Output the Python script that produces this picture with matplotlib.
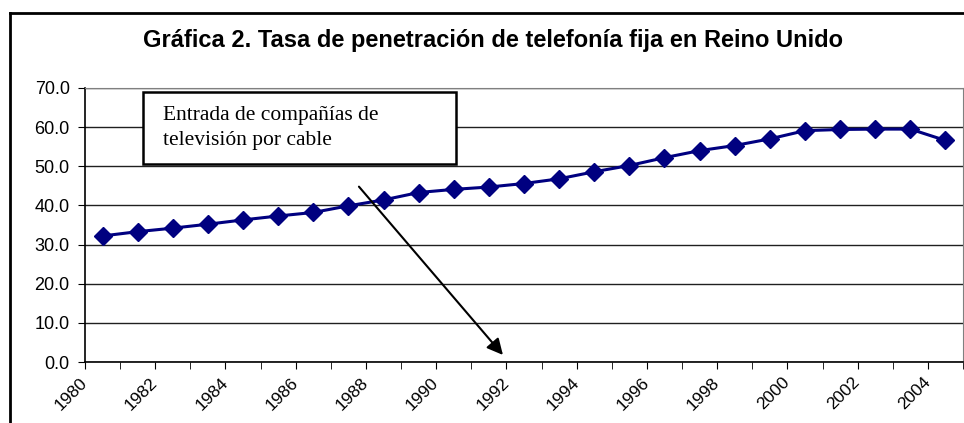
import numpy as np
import matplotlib
matplotlib.use("Agg")
import matplotlib.pyplot as plt
from matplotlib.lines import Line2D
from matplotlib.patches import Rectangle

years = list(range(1980, 2005))
tasa = [32.2, 33.3, 34.2, 35.2, 36.3, 37.3, 38.2, 39.9, 41.4, 43.3, 44.1, 44.7,
        45.6, 46.8, 48.6, 50.2, 52.2, 54.0, 55.3, 57.0, 59.1, 59.4, 59.5, 59.5, 56.6]
yticks = [0, 10, 20, 30, 40, 50, 60, 70]
title = "Gráfica 2. Tasa de penetración de telefonía fija en Reino Unido"
nota = "Entrada de compañías de\ntelevisión por cable"

plt.rcParams["font.family"] = ["Liberation Sans", "DejaVu Sans"]

fig = plt.figure(figsize=(9.64, 4.23), dpi=100)
ax = fig.add_axes([85 / 964, 1 - 362 / 423, 878 / 964, 274 / 423])

x = np.arange(len(years)) + 0.5
ax.plot(x, tasa, color="#000080", lw=2.2, marker="D", ms=9, mec="#000080", zorder=3)

ax.set_xlim(0, len(years))
ax.set_ylim(0, 70)
ax.set_yticks(yticks)
ax.set_yticklabels([f"{v:.1f}" for v in yticks], fontsize=13)
ax.set_xticks(np.arange(len(years) + 1), minor=True)
ax.set_xticks(np.arange(0, len(years), 2))
ax.set_xticklabels([str(years[i]) for i in range(0, len(years), 2)],
                   rotation=45, ha="right", va="center", rotation_mode="anchor",
                   fontsize=12.5)
ax.tick_params(axis="x", which="both", length=5, direction="out", color="black")
ax.tick_params(axis="x", which="major", pad=8)
ax.tick_params(axis="y", length=5, direction="out", pad=6)
ax.grid(axis="y", color="#202020", lw=1)
for s in ("top", "right"):
    ax.spines[s].set_color("#808080")
for s in ("left", "bottom"):
    ax.spines[s].set_color("black")
    ax.spines[s].set_linewidth(1.2)

# arrow from the note down to 1992
ax.annotate("", xy=(11.9, 1.8), xytext=(7.8, 44.8),
            arrowprops=dict(arrowstyle="-|>", color="black", lw=1.5,
                            mutation_scale=24, shrinkA=0, shrinkB=0), zorder=4)

# text box
fig.patches.append(Rectangle((143 / 964, 1 - 164 / 423), 313 / 964, 72 / 423,
                             transform=fig.transFigure, fill=True, fc="white",
                             ec="black", lw=1.8, zorder=5))
fig.text(163 / 964, 1 - 128 / 423, nota, family="Liberation Serif", fontsize=15.5,
         va="center", ha="left", linespacing=1.4, zorder=6)

fig.text(493 / 964, 1 - 40 / 423, title, fontsize=17, fontweight="bold",
         ha="center", va="center")

# outer frame
fig.add_artist(Line2D([10 / 964, 10 / 964], [0, 1 - 13 / 423], color="black", lw=2,
                      transform=fig.transFigure))
fig.add_artist(Line2D([10 / 964, 1], [1 - 13 / 423, 1 - 13 / 423], color="black", lw=2,
                      transform=fig.transFigure))

fig.savefig("out.png", dpi=100, facecolor="white")
